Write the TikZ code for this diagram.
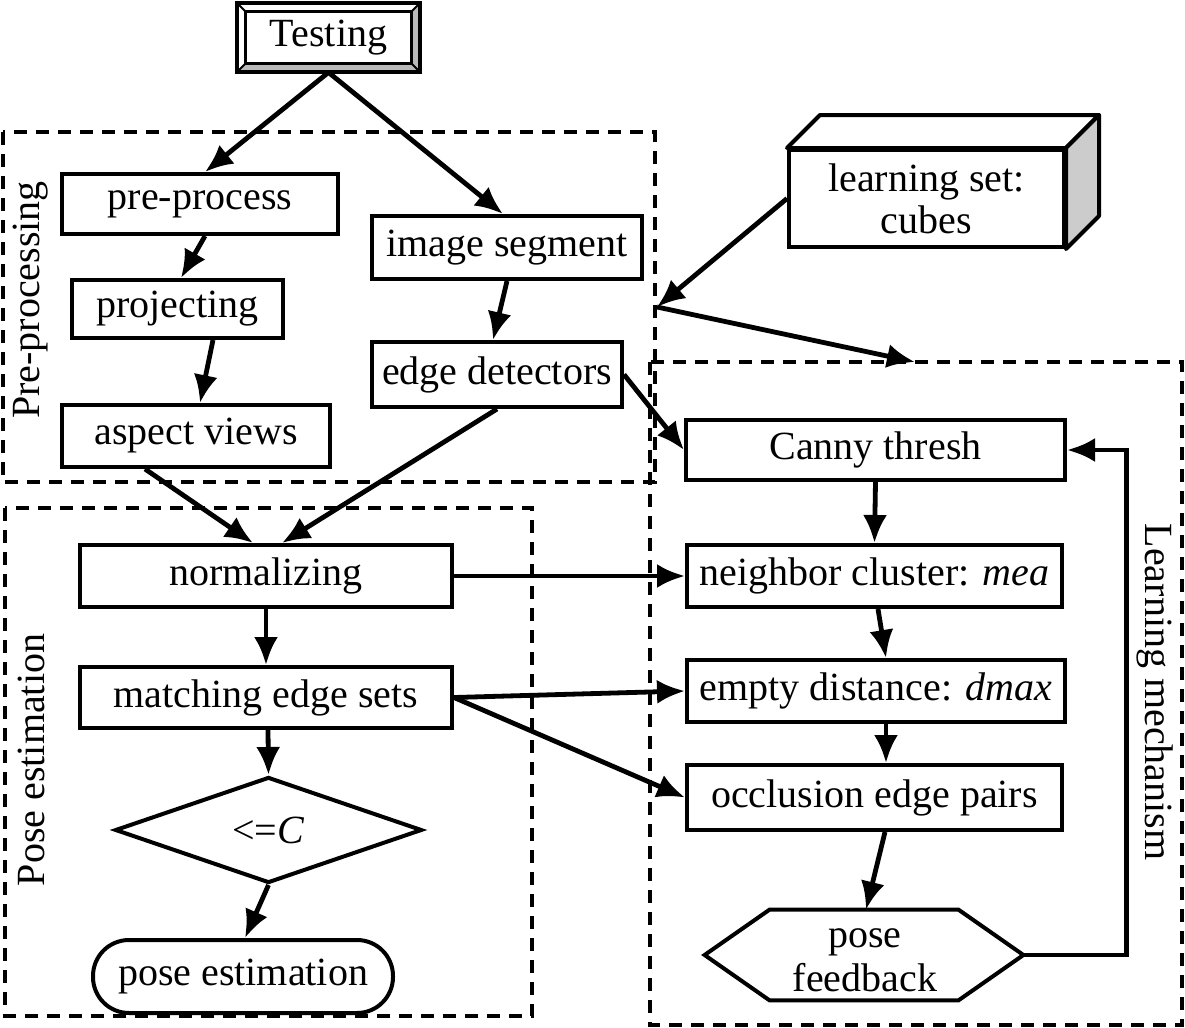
\documentclass[tikz,border=0pt]{standalone}
\usepackage{fontspec}
\setmainfont{Liberation Serif}
\usetikzlibrary{arrows.meta,shapes.geometric}
\begin{document}
\begin{tikzpicture}[x=0.5pt,y=-0.5pt,
  every node/.style={font=\fontsize{20}{22}\selectfont, inner sep=0pt},
  box/.style={draw, line width=2pt, fill=white},
  arr/.style={draw, line width=2.4pt, -{Latex[length=14pt,width=12pt]}},
  dbox/.style={draw, line width=1.6pt, dash pattern=on 6.5pt off 4.5pt},
  lbl/.style={font=\fontsize{20}{22}\selectfont}]
\useasboundingbox[fill=white] (0,0) rectangle (1185,1028);

% dashed group boxes
\draw[dbox] (3,132) rectangle (655,482);
\draw[dbox] (5,508) rectangle (532,1016);
\draw[dbox] (650,362) rectangle (1182,1025);
\node[lbl, rotate=90] (lpre) at (31,300) {Pre-processing};
\node[lbl, rotate=90] (lpose) at (31,760) {Pose estimation};
\node[lbl, rotate=-90] (llearn) at (1155,692) {Learning mechanism};

% Testing (bevelled box)
\node[minimum width=91.5pt, minimum height=34.5pt] (test) at (328.5,37.5) {};
\fill[gray!55] (test.north east) -- ([xshift=-4.5pt,yshift=-4.5pt]test.north east)
  -- ([xshift=-4.5pt,yshift=4.5pt]test.south east) -- ([xshift=4.5pt,yshift=4.5pt]test.south west)
  -- (test.south west) -- (test.south east) -- cycle;
\draw[line width=2pt] (test.north west) rectangle (test.south east);
\draw[line width=1.6pt] ([xshift=4.5pt,yshift=-4.5pt]test.north west) rectangle ([xshift=-4.5pt,yshift=4.5pt]test.south east);
\draw[line width=1pt] (test.north west) -- ([xshift=4.5pt,yshift=-4.5pt]test.north west)
  (test.north east) -- ([xshift=-4.5pt,yshift=-4.5pt]test.north east)
  (test.south west) -- ([xshift=4.5pt,yshift=4.5pt]test.south west)
  (test.south east) -- ([xshift=-4.5pt,yshift=4.5pt]test.south east);
\node at (test.center) {Testing};

% learning set cube
\node[box, minimum width=137.5pt, minimum height=48.5pt, align=center] (cube) at (926.5,198.5) {learning set:\\[-1pt]cubes};
\draw[line width=2pt, fill=white, line join=round] (cube.north west) -- ++(33,-33) -- ([shift={(33,-33)}]cube.north east) -- (cube.north east) -- cycle;
\draw[line width=2pt, fill=gray!40, line join=round] (cube.north east) -- ++(33,-33) -- ([shift={(33,-33)}]cube.south east) -- (cube.south east) -- cycle;
\coordinate (cpt) at (657,307);
\coordinate (lt) at (915,362);

% pre-processing boxes
\node[box, minimum width=138pt, minimum height=30pt] (pre) at (200,204) {pre-process};
\node[box, minimum width=105.5pt, minimum height=29pt] (proj) at (177.5,309) {projecting};
\node[box, minimum width=134pt, minimum height=31pt] (asp) at (196,436) {aspect views};
\node[box, minimum width=135pt, minimum height=31.5pt] (seg) at (507,247.5) {image segment};
\node[box, minimum width=125pt, minimum height=32.5pt] (edge) at (497,374.5) {edge detectors};

% learning mechanism boxes
\node[box, minimum width=189.5pt, minimum height=30pt] (canny) at (875.5,450) {Canny thresh};
\node[box, minimum width=187.5pt, minimum height=31pt] (neigh) at (874.5,576) {neighbor cluster: \textit{mea}};
\node[box, minimum width=189pt, minimum height=31pt] (empty) at (876,691) {empty distance: \textit{dmax}};
\node[box, minimum width=187.5pt, minimum height=32.5pt] (occl) at (874.5,797.5) {occlusion edge pairs};
\node[minimum width=159pt, minimum height=45pt] (hex) at (864,955) {};
\draw[line width=2pt, line join=miter] (hex.west) -- ([xshift=32.5pt]hex.north west) -- ([xshift=-32.5pt]hex.north east)
  -- (hex.east) -- ([xshift=-32.5pt]hex.south east) -- ([xshift=32.5pt]hex.south west) -- cycle;
\node[align=center] (hext) at (865,960) {pose\\[0pt]feedback};

% pose estimation boxes
\node[box, minimum width=186pt, minimum height=31pt] (norm) at (266,576) {normalizing};
\node[box, minimum width=186pt, minimum height=30.5pt] (match) at (266,697.5) {matching edge sets};
\node[draw, line width=2pt, shape=diamond, shape aspect=2.9, minimum width=153.5pt, minimum height=53pt] (diam) at (268.5,830) {<=\textit{C}};
\node[box, rounded corners=18pt, minimum width=150pt, minimum height=36.5pt] (pest) at (243,976.5) {pose estimation};

% connectors
\draw[arr] (test.south) -- ([xshift=2.5pt]pre.north);
\draw[arr] (test.south) -- ([xshift=-2pt]seg.north);
\draw[arr] ([xshift=2.5pt]pre.south) -- ([xshift=1.75pt]proj.north);
\draw[arr] ([xshift=17.75pt]proj.south) -- ([xshift=2pt]asp.north);
\draw[arr] (seg.south) -- ([xshift=-2pt]edge.north);
\draw[arr] ([xshift=-25.5pt]asp.south) -- ([xshift=-6.5pt]norm.north);
\draw[arr] (edge.south) -- ([xshift=8pt]norm.north);
\draw[arr] (edge.east) -- (canny.west);
\draw[arr] (cube.west) -- (cpt);
\draw[arr] (cpt) -- (lt);
\draw[arr] (canny.south) -- (neigh.north);
\draw[arr] ([xshift=1.75pt]neigh.south) -- ([xshift=5pt]empty.north);
\draw[arr] ([xshift=5pt]empty.south) -- ([xshift=5.75pt]occl.north);
\draw[arr] ([xshift=5.25pt]occl.south) -- ([xshift=1pt]hex.north);
\draw[arr] (norm.east) -- (neigh.west);
\draw[arr] (match.east) -- (empty.west);
\draw[arr] (match.east) -- (occl.west);
\draw[arr] (norm.south) -- (match.north);
\draw[arr] ([xshift=1pt]match.south) -- (diam.north);
\draw[arr] (diam.south) -- ([xshift=1pt]pest.north);
\draw[arr] (hex.east) -- ++(51.5pt,0) |- (canny.east);
\end{tikzpicture}
\end{document}
